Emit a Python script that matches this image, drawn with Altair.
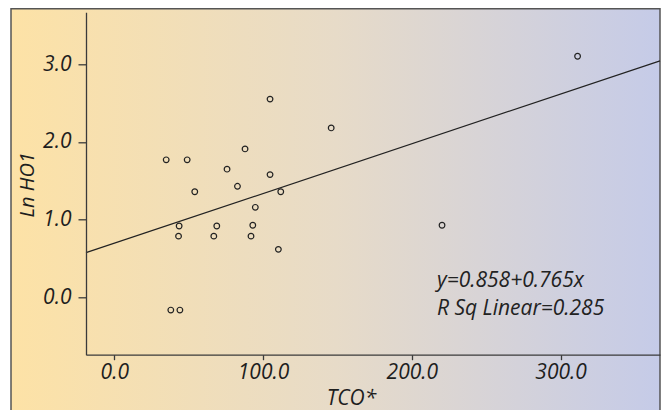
import altair as alt
import pandas as pd

# Data
tco = [104.7, 145.8, 87.9, 34.9, 49.0, 75.8, 104.7, 54.1, 82.8, 111.9, 94.8,
       43.6, 43.2, 68.9, 66.9, 38.0, 44.1, 93.1, 91.9, 110.3, 220.3, 311.4]
ln_ho1 = [2.55, 2.18, 1.91, 1.77, 1.77, 1.65, 1.58, 1.36, 1.43, 1.36, 1.16,
          0.92, 0.79, 0.92, 0.79, -0.16, -0.16, 0.93, 0.79, 0.62, 0.93, 3.10]

fit_x = [-19.0, 366.8]
fit_y = [0.578, 3.041]

x_ticks = [0, 100, 200, 300]
y_ticks = [0, 1, 2, 3]

ann_text = ["y=0.858+0.765x", "R Sq Linear=0.285"]
ann_x = [216.9, 216.9]
ann_y = [0.134, -0.224]

x_domain = [-19.0, 366.8]
y_domain = [-0.733, 3.665]

FONT = "Open Sans"

pts = pd.DataFrame({"TCO": tco, "LnHO1": ln_ho1})
fit = pd.DataFrame({"TCO": fit_x, "LnHO1": fit_y})
ann = pd.DataFrame({"TCO": ann_x, "LnHO1": ann_y, "t": ann_text})

xscale = alt.Scale(domain=x_domain, nice=False, zero=False)
yscale = alt.Scale(domain=y_domain, nice=False, zero=False)

xaxis = alt.Axis(values=x_ticks, format=".1f", grid=False, title="TCO*",
                 titleX=265, titleY=50, titleBaseline="alphabetic",
                 titleFontSize=21,
                 tickSize=5, labelPadding=2, zindex=2)
yaxis = alt.Axis(values=y_ticks, format=".1f", grid=False, title="Ln HO1",
                 titleX=-53, titleY=172, titleAngle=-90,
                 titleBaseline="alphabetic", titleAlign="center",
                 titleFontSize=20,
                 tickSize=8, labelPadding=7, zindex=2)

bg = alt.Chart(alt.Data(values=[{"a": 1}])).mark_rect(
    fill={
        "gradient": "linear",
        "x1": 0, "y1": 0, "x2": 1, "y2": 0,
        "stops": [
            {"offset": 0.0, "color": "#FDE2A6"},
            {"offset": 0.5, "color": "#E7DBC8"},
            {"offset": 1.0, "color": "#C5CBE8"},
        ],
    },
    stroke="#555555",
    strokeWidth=1.5,
).encode(
    x=alt.value(-75), x2=alt.value(574),
    y=alt.value(-3.5), y2=alt.value(430),
)

line = alt.Chart(fit).mark_line(color="#222222", strokeWidth=1.2).encode(
    x=alt.X("TCO:Q", scale=xscale, axis=xaxis),
    y=alt.Y("LnHO1:Q", scale=yscale, axis=yaxis),
)

points = alt.Chart(pts).mark_point(
    shape="circle", filled=False, color="#222222", size=32, strokeWidth=1.2,
    opacity=1
).encode(
    x=alt.X("TCO:Q", scale=xscale),
    y=alt.Y("LnHO1:Q", scale=yscale),
)

text = alt.Chart(ann).mark_text(
    align="left", baseline="alphabetic", font=FONT, fontStyle="italic",
    fontSize=21, color="#222222"
).encode(
    x=alt.X("TCO:Q", scale=xscale),
    y=alt.Y("LnHO1:Q", scale=yscale),
    text="t:N",
)

chart = alt.layer(bg, line, points, text).properties(
    width=574, height=342.4,
    autosize=alt.AutoSizeParams(type="none"),
    padding={"left": 78, "top": 4.3, "right": 1, "bottom": 55.3},
    background="white",
).configure_view(stroke=None).configure_axis(
    domainColor="#3a3a3a", domainWidth=1.3, tickColor="#3a3a3a", tickWidth=1.3,
    labelFont=FONT, labelFontSize=21, labelColor="#1e1e1e",
    labelFontStyle="italic",
    titleFont=FONT, titleColor="#1e1e1e",
    titleFontStyle="italic", titleFontWeight="normal",
)

chart.save("out.html", embed_options={"renderer": "svg", "actions": False})
